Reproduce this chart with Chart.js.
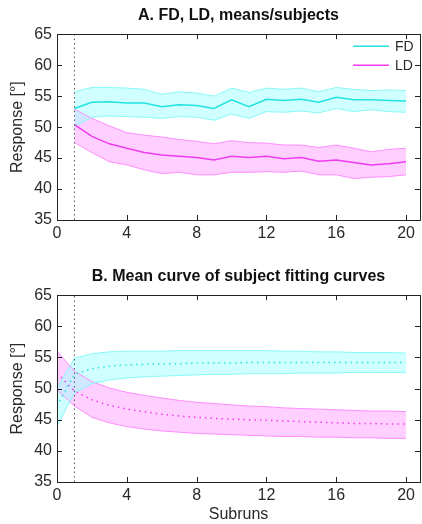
<!DOCTYPE html>
<html>
<head>
<meta charset="utf-8">
<script src="https://cdn.jsdelivr.net/npm/chart.js@4.4.1/dist/chart.umd.min.js"></script>
<style>
  html, body { margin: 0; padding: 0; background: #fff; }
  .panel { width: 422px; position: relative; }
  canvas { display: block; }
</style>
</head>
<body>
<div class="panel" style="height:250px"><canvas id="chartA" width="422" height="250"></canvas></div>
<div class="panel" style="height:274px"><canvas id="chartB" width="422" height="274"></canvas></div>
<script>
// --- Data ---
const subruns = [1, 2, 3, 4, 5, 6, 7, 8, 9, 10, 11, 12, 13, 14, 15, 16, 17, 18, 19, 20];
const fdMeanA = [53.0, 54.0, 54.1, 53.9, 53.9, 53.3, 53.6, 53.5, 53.0, 54.4, 53.3, 54.5, 54.3, 54.5, 54.0, 54.8, 54.4, 54.4, 54.3, 54.2];
const fdUpA   = [55.7, 56.4, 56.4, 56.3, 56.1, 55.3, 55.7, 55.5, 55.0, 56.3, 55.6, 56.3, 56.1, 56.3, 55.7, 56.4, 56.1, 55.9, 56.0, 55.9];
const fdLoA   = [50.1, 51.6, 51.8, 51.7, 51.6, 51.4, 51.7, 51.6, 51.1, 52.1, 51.4, 52.5, 52.4, 52.6, 52.3, 53.0, 52.5, 52.8, 52.5, 52.4];
const ldMeanA = [50.4, 48.5, 47.3, 46.6, 45.9, 45.5, 45.3, 45.1, 44.7, 45.3, 45.1, 45.3, 44.9, 45.1, 44.5, 44.7, 44.3, 43.9, 44.1, 44.4];
const ldUpA   = [52.9, 51.4, 50.2, 49.1, 48.7, 48.4, 48.0, 47.7, 47.3, 47.8, 47.5, 47.4, 47.1, 47.1, 46.7, 47.1, 46.6, 46.0, 46.4, 46.6];
const ldLoA   = [47.5, 45.9, 44.4, 43.9, 43.1, 42.5, 42.7, 42.3, 42.3, 42.7, 42.7, 42.8, 42.7, 42.9, 42.3, 42.3, 41.7, 41.9, 42.0, 42.3];

const fitX      = [0, 1, 2, 3, 4, 5, 6, 7, 8, 9, 10, 11, 12, 13, 14, 15, 16, 17, 18, 19, 20];
const fdMeanFit = [47.2, 52.3, 53.2, 53.6, 53.8, 53.9, 54.0, 54.0, 54.1, 54.1, 54.1, 54.2, 54.2, 54.2, 54.2, 54.2, 54.2, 54.2, 54.2, 54.2, 54.2];
const fdUpFit   = [50.0, 54.9, 55.6, 55.9, 56.0, 56.0, 56.0, 56.1, 56.1, 56.1, 56.1, 56.1, 56.1, 56.0, 56.0, 55.9, 55.9, 55.8, 55.8, 55.8, 55.7];
const fdLoFit   = [44.0, 49.3, 50.8, 51.4, 51.7, 51.9, 52.0, 52.1, 52.2, 52.3, 52.3, 52.4, 52.4, 52.4, 52.5, 52.5, 52.5, 52.6, 52.6, 52.6, 52.6];
const ldMeanFit = [52.5, 49.6, 48.2, 47.3, 46.7, 46.3, 45.9, 45.6, 45.4, 45.2, 45.1, 45.0, 44.9, 44.8, 44.7, 44.6, 44.5, 44.4, 44.4, 44.3, 44.3];
const ldUpFit   = [56.0, 52.8, 51.1, 50.1, 49.4, 48.9, 48.5, 48.1, 47.8, 47.6, 47.4, 47.2, 47.1, 46.9, 46.8, 46.7, 46.6, 46.5, 46.4, 46.4, 46.3];
const ldLoFit   = [49.8, 47.2, 45.4, 44.5, 43.9, 43.5, 43.2, 43.0, 42.8, 42.7, 42.6, 42.5, 42.4, 42.3, 42.3, 42.2, 42.2, 42.1, 42.1, 42.0, 42.0];

const xTicks = [0, 4, 8, 12, 16, 20];
const yTicks = [35, 40, 45, 50, 55, 60, 65];
const xRange = [0, 20.8];
const yRange = [35, 65];
const markerX = 1;
const legendLabels = ['FD', 'LD'];

// --- Styles ---
const FONT = 'Arial, "Liberation Sans", sans-serif';
const TEXT = '#2a2a2a';
const AXIS = '#222';
const C = {
    fdLine: '#22e2e2', fdEdge: '#88f8f8', fdFill: 'rgba(160, 255, 255, 0.5)',
    ldLine: '#f03cf0', ldEdge: '#ff8cff', ldFill: 'rgba(255, 160, 255, 0.5)',
};

const pts = (xs, ys) => xs.map((x, i) => ({ x, y: ys[i] }));

// inward tick marks on all four sides + box + in-plot legend
const boxPlugin = {
    id: 'matlabBox',
    afterDraw(chart, args, opts) {
        const { ctx, chartArea: a, scales } = chart;
        ctx.save();
        ctx.strokeStyle = AXIS;
        ctx.lineWidth = 1;
        ctx.beginPath();
        const len = 5;
        xTicks.forEach(v => {
            const px = Math.round(scales.x.getPixelForValue(v)) + 0.5;
            ctx.moveTo(px, a.bottom); ctx.lineTo(px, a.bottom - len);
            ctx.moveTo(px, a.top); ctx.lineTo(px, a.top + len);
        });
        yTicks.forEach(v => {
            const py = Math.round(scales.y.getPixelForValue(v)) + 0.5;
            ctx.moveTo(a.left, py); ctx.lineTo(a.left + len, py);
            ctx.moveTo(a.right, py); ctx.lineTo(a.right - len, py);
        });
        ctx.stroke();
        ctx.strokeRect(Math.round(a.left) + 0.5, Math.round(a.top) + 0.5,
            Math.round(a.right - a.left), Math.round(a.bottom - a.top));

        if (opts.legend) {
            const colors = [C.fdLine, C.ldLine];
            ctx.font = '14px ' + FONT;
            ctx.fillStyle = TEXT;
            ctx.textBaseline = 'middle';
            ctx.textAlign = 'left';
            legendLabels.forEach((lab, i) => {
                const y = a.top + 12 + i * 19;
                ctx.strokeStyle = colors[i];
                ctx.lineWidth = 1.5;
                ctx.beginPath();
                ctx.moveTo(a.right - 67, y); ctx.lineTo(a.right - 31, y);
                ctx.stroke();
                ctx.fillText(lab, a.right - 25, y + 1);
            });
        }
        ctx.restore();
    }
};

function makeDatasets(xs, fdM, fdU, fdL, ldM, ldU, ldL, dotted) {
    const mean = dotted ? [1.5, 4] : [];
    return [
        { data: [{ x: markerX, y: yRange[0] }, { x: markerX, y: yRange[1] }],
          borderColor: '#555', borderWidth: 1, borderDash: [1.5, 3], fill: false },
        { data: pts(xs, fdM), borderColor: C.fdLine, borderWidth: 1.5, borderDash: mean, fill: false },
        { data: pts(xs, ldM), borderColor: C.ldLine, borderWidth: 1.5, borderDash: mean, fill: false },
        { data: pts(xs, fdU), borderColor: C.fdEdge, borderWidth: 1, backgroundColor: C.fdFill, fill: { target: '+1' } },
        { data: pts(xs, fdL), borderColor: C.fdEdge, borderWidth: 1, fill: false },
        { data: pts(xs, ldU), borderColor: C.ldEdge, borderWidth: 1, backgroundColor: C.ldFill, fill: { target: '+1' } },
        { data: pts(xs, ldL), borderColor: C.ldEdge, borderWidth: 1, fill: false },
    ];
}

function makeOptions(title, titlePad, xTitle, xHeight, legend) {
    return {
        responsive: false,
        animation: false,
        layout: { padding: { left: 0, right: 2, top: 0, bottom: 0 } },
        elements: { point: { radius: 0 }, line: { tension: 0 } },
        scales: {
            x: {
                type: 'linear', min: xRange[0], max: xRange[1],
                afterBuildTicks: s => { s.ticks = xTicks.map(v => ({ value: v })); },
                afterFit: s => { s.height = xHeight; },
                grid: { display: false, drawTicks: false },
                border: { display: false },
                ticks: { color: TEXT, font: { family: FONT, size: 16 }, padding: 4, maxRotation: 0 },
                title: { display: !!xTitle, text: xTitle, color: TEXT,
                         font: { family: FONT, size: 16 }, padding: { top: 0, bottom: 0 } }
            },
            y: {
                min: yRange[0], max: yRange[1],
                afterBuildTicks: s => { s.ticks = yTicks.map(v => ({ value: v })); },
                afterFit: s => { s.width = 57; },
                grid: { display: false, drawTicks: false },
                border: { display: false },
                ticks: { color: TEXT, font: { family: FONT, size: 16 }, padding: 5 },
                title: { display: true, text: 'Response [°]', color: TEXT,
                         font: { family: FONT, size: 16 }, padding: { top: 8, bottom: 0 } }
            }
        },
        plugins: {
            legend: { display: false },
            tooltip: { enabled: false },
            filler: { drawTime: 'beforeDatasetsDraw' },
            title: { display: true, text: title, color: '#111', fullSize: false,
                     font: { family: FONT, size: 16, weight: 'bold' }, padding: titlePad },
            matlabBox: { legend }
        }
    };
}

new Chart(document.getElementById('chartA'), {
    type: 'line',
    data: { datasets: makeDatasets(subruns, fdMeanA, fdUpA, fdLoA, ldMeanA, ldUpA, ldLoA, false) },
    options: makeOptions('A. FD, LD, means/subjects', { top: 6, bottom: 9 }, '', 30, true),
    plugins: [boxPlugin]
});

new Chart(document.getElementById('chartB'), {
    type: 'line',
    data: { datasets: makeDatasets(fitX, fdMeanFit, fdUpFit, fdLoFit, ldMeanFit, ldUpFit, ldLoFit, true) },
    options: makeOptions('B. Mean curve of subject fitting curves', { top: 17, bottom: 9 }, 'Subruns', 42, false),
    plugins: [boxPlugin]
});
</script>
</body>
</html>
